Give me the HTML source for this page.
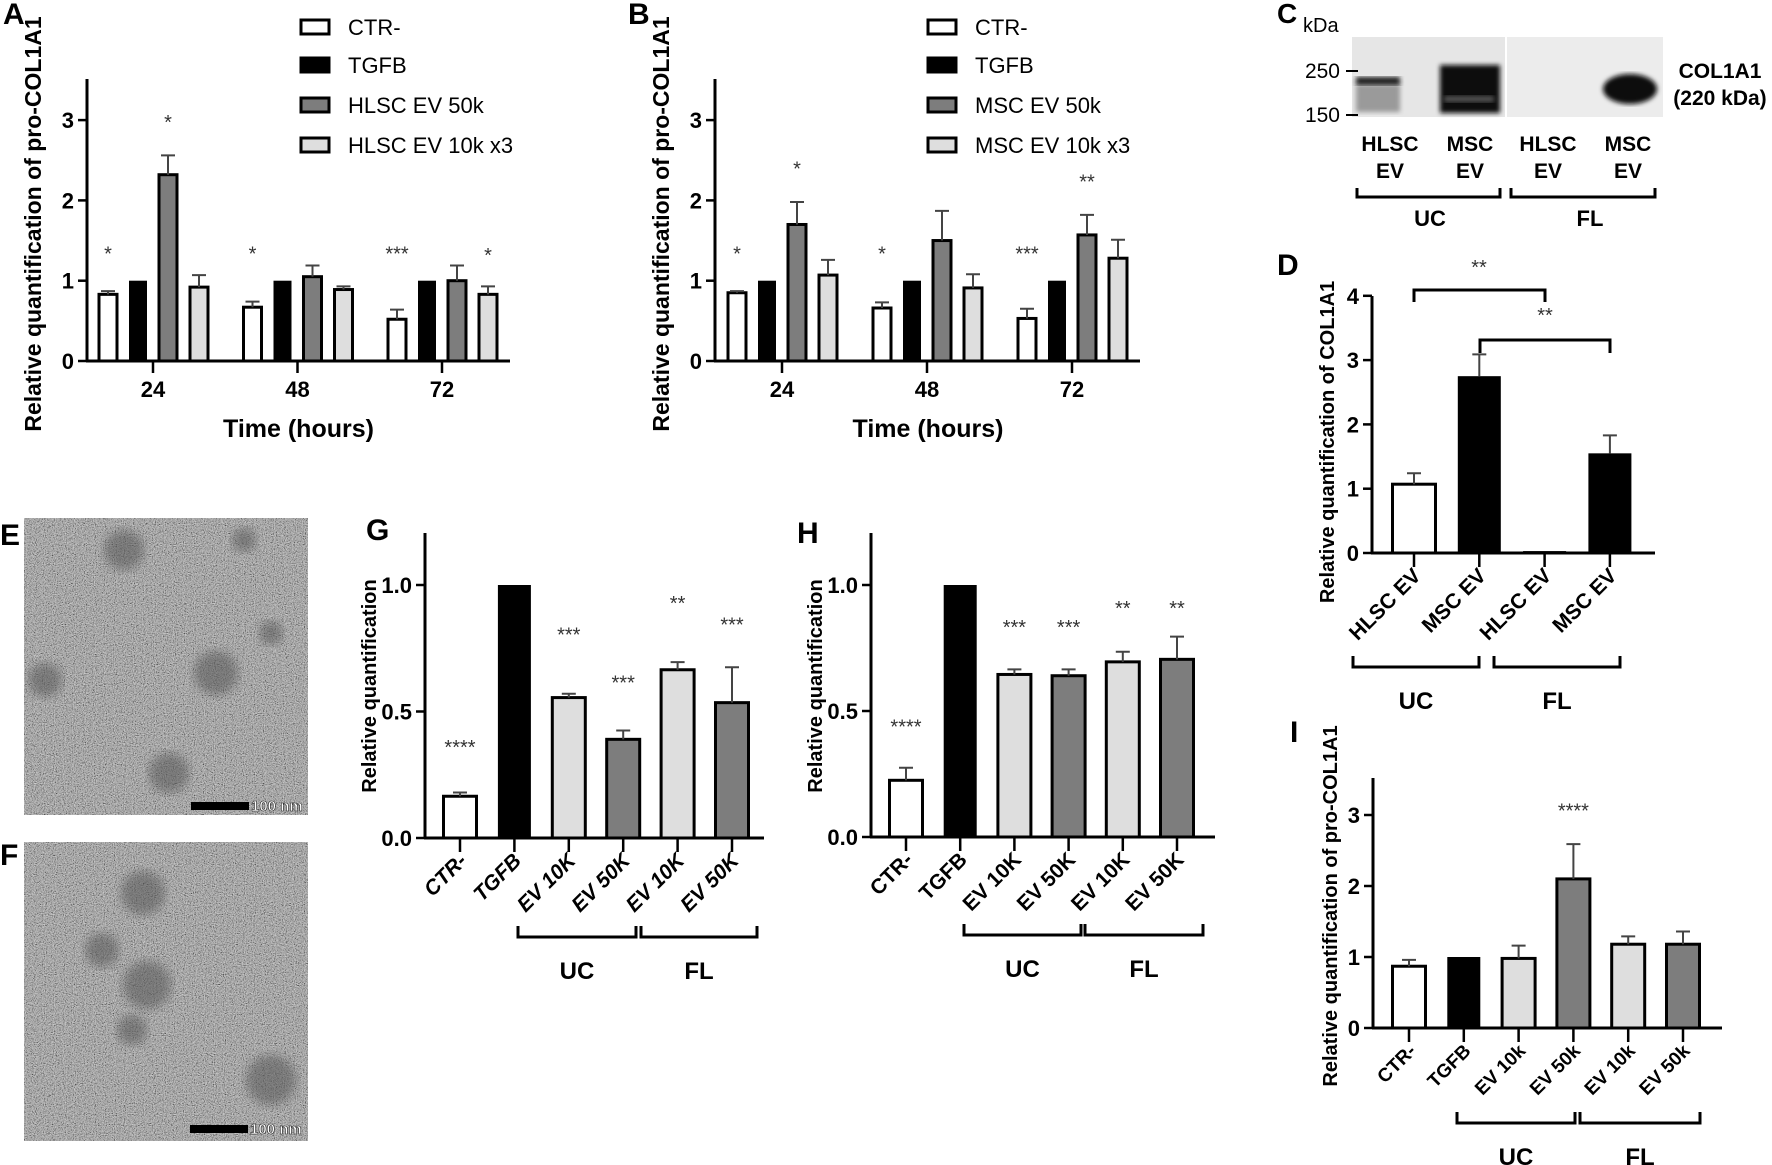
<!DOCTYPE html>
<html><head><meta charset="utf-8"><style>
html,body{margin:0;padding:0;background:#fff;}
svg{display:block;font-family:"Liberation Sans",Arial,sans-serif;}
</style></head>
<body>
<svg id="fig" width="1772" height="1165" viewBox="0 0 1772 1165" xmlns="http://www.w3.org/2000/svg">
<defs>
<filter id="noise" x="0" y="0" width="100%" height="100%">
<feTurbulence type="fractalNoise" baseFrequency="0.9" numOctaves="2" seed="3" result="t"/>
<feColorMatrix type="matrix" values="1 1 1 0 -1.1  1 1 1 0 -1.1  1 1 1 0 -1.1  0 0 0 0 0.5"/>
</filter>
<filter id="blur4"><feGaussianBlur stdDeviation="5"/></filter>
<filter id="blur2"><feGaussianBlur stdDeviation="2.5"/></filter>
</defs>
<g id="root"></g>
</svg>
<script>
// ---------- Panel A data ----------
const A_times = ['24','48','72'];
const A_ctr = [0.83, 0.67, 0.52];
const A_ctrErr = [0.87, 0.74, 0.64];
const A_tgfb = [1, 1, 1];
const A_tgfbErr = [1, 1, 1];
const A_ev50 = [2.32, 1.05, 1.0];
const A_ev50Err = [2.56, 1.19, 1.19];
const A_ev10 = [0.92, 0.89, 0.83];
const A_ev10Err = [1.07, 0.93, 0.93];
const A_sigCtr = ['*','*','***'];
const A_sigEv50 = ['*','',''];
const A_sigEv10 = ['','','*'];
const A_ticks = [0,1,2,3];
const A_legend = ['CTR-','TGFB','HLSC EV 50k','HLSC EV 10k x3'];
// ---------- Panel B data ----------
const B_times = ['24','48','72'];
const B_ctr = [0.85, 0.66, 0.53];
const B_ctrErr = [0.87, 0.73, 0.65];
const B_tgfb = [1, 1, 1];
const B_tgfbErr = [1, 1, 1];
const B_ev50 = [1.70, 1.50, 1.57];
const B_ev50Err = [1.98, 1.87, 1.82];
const B_ev10 = [1.07, 0.91, 1.28];
const B_ev10Err = [1.26, 1.08, 1.51];
const B_sigCtr = ['*','*','***'];
const B_sigEv50 = ['*','','**'];
const B_sigEv10 = ['','',''];
const B_ticks = [0,1,2,3];
const B_legend = ['CTR-','TGFB','MSC EV 50k','MSC EV 10k x3'];
// ---------- Panel D data ----------
const D_cats = ['HLSC EV','MSC EV','HLSC EV','MSC EV'];
const D_vals = [1.07, 2.75, 0.03, 1.55];
const D_err = [1.24, 3.09, 0.03, 1.83];
const D_ticks = [0,1,2,3,4];
// ---------- Panel G data ----------
const G_cats = ['CTR-','TGFB','EV 10K','EV 50K','EV 10K','EV 50K'];
const G_vals = [0.165, 1.0, 0.555, 0.39, 0.665, 0.535];
const G_err = [0.18, 1.0, 0.57, 0.425, 0.695, 0.675];
const G_sig = ['****','','***','***','**','***'];
const G_sigY = [0.355, 0, 0.80, 0.61, 0.925, 0.84];
const G_ticks = [0, 0.5, 1.0];
const G_tickLabels = ['0.0','0.5','1.0'];
// ---------- Panel H data ----------
const H_cats = ['CTR-','TGFB','EV 10K','EV 50K','EV 10K','EV 50K'];
const H_vals = [0.225, 1.0, 0.645, 0.64, 0.695, 0.705];
const H_err = [0.275, 1.0, 0.665, 0.665, 0.735, 0.795];
const H_sig = ['****','','***','***','**','**'];
const H_sigY = [0.435, 0, 0.83, 0.83, 0.905, 0.905];
const H_ticks = [0, 0.5, 1.0];
const H_tickLabels = ['0.0','0.5','1.0'];
// ---------- Panel I data ----------
const I_cats = ['CTR-','TGFB','EV 10k','EV 50k','EV 10k','EV 50k'];
const I_vals = [0.87, 1.0, 0.98, 2.10, 1.18, 1.18];
const I_err = [0.96, 1.0, 1.16, 2.59, 1.29, 1.36];
const I_sig = ['','','','****','',''];
const I_sigY = [0,0,0,3.05,0,0];
const I_ticks = [0,1,2,3];

const NS='http://www.w3.org/2000/svg';
const root=document.getElementById('root');
function mk(tag,attrs,parent,text){const e=document.createElementNS(NS,tag);for(const k in attrs)e.setAttribute(k,attrs[k]);if(text!==undefined)e.textContent=text;(parent||root).appendChild(e);return e;}
const FILLS={white:'#ffffff',black:'#000000',dark:'#7d7d7d',light:'#dedede'};

function yAxis(g,ax,zero,top,unit,ticks,labels,fs){
  const l=mk('line',{x1:ax,y1:top,x2:ax,y2:zero+1,stroke:'#000','stroke-width':3},g);
  
  
  ticks.forEach((t,i)=>{const y=zero-t*unit;
    const tk=mk('line',{x1:ax-9,y1:y,x2:ax,y2:y,stroke:'#000','stroke-width':2.5},g);
    
    
    const tl=mk('text',{x:ax-13,y:y+8,'text-anchor':'end','font-size':fs,'font-weight':'bold'},g,labels?labels[i]:String(t));
    
    });
}
function barMark(g,cx,w,zero,unit,v,err,fill,name){
  const top=zero-v*unit;
  const r=mk('rect',{x:cx-w/2,y:top,width:w,height:Math.max(zero-top,1),fill:fill,stroke:'#000','stroke-width':fill==='#000000'?0:3},g);
  
  
  if(err>v+0.001){const et=zero-err*unit;
    const e=mk('path',{d:`M${cx},${top} V${et} M${cx-7},${et} H${cx+7}`,stroke:'#444','stroke-width':2,fill:'none'},g);
    
    }
}
function star(g,x,y,s){if(!s)return;const t=mk('text',{x:x,y:y,'text-anchor':'middle','font-size':20,fill:'#333'},g,s);
  
  }
function ylabel(g,x,y,s,fs,txt){const t=mk('text',{transform:`translate(${x},${y}) rotate(-90)`,'text-anchor':'middle','font-size':fs,'font-weight':'bold'},g,txt);
  
  }
function letter(x,y,s,fs){const t=mk('text',{x:x,y:y,'font-size':fs||30,'font-weight':'bold'},root,s);
  
  }
function bracket(g,x1,x2,y,up,name){const p=mk('path',{d:`M${x1},${y-up} V${y} H${x2} V${y-up}`,stroke:'#000','stroke-width':3,fill:'none'},g);
  
  }
function centerText(g,x,y,s,fs,bold,name){const t=mk('text',{x:x,y:y,'text-anchor':'middle','font-size':fs,'font-weight':bold?'bold':'normal'},g,s);
  
  return t;}

// ---------- grouped chart (A, B) ----------
function grouped(cfg){
  const g=mk('g',{});
  
  
  const {ax,zero,top,unit,end,tick0,step}=cfg;
  const xOf=i=>tick0+i*step;
  const offs=[-45,-15,15,46], w=18;
  const series=[[cfg.ctr,cfg.ctrErr,FILLS.white,'bar-ctr'],[cfg.tgfb,cfg.tgfbErr,FILLS.black,'bar-tgfb'],[cfg.ev50,cfg.ev50Err,FILLS.dark,'bar-ev-50k'],[cfg.ev10,cfg.ev10Err,FILLS.light,'bar-ev-10k']];
  cfg.times.forEach((t,i)=>{
    series.forEach((s,k)=>barMark(g,xOf(i)+offs[k],w,zero,unit,s[0][i],s[1][i],s[2],s[3]+'-'+t));
    star(g,xOf(i)+offs[0],zero-1.25*unit,cfg.sigCtr[i]);
    star(g,xOf(i)+offs[2],zero-(cfg.ev50Err[i]+0.33)*unit,cfg.sigEv50[i]);
    star(g,xOf(i)+offs[3],zero-(cfg.ev10Err[i]+0.3)*unit,cfg.sigEv10[i]);
    const tk=mk('line',{x1:xOf(i),y1:zero,x2:xOf(i),y2:zero+12,stroke:'#000','stroke-width':2.5},g);
    
    
    centerText(g,xOf(i),zero+36,t,22,true,'x-tick-label');
  });
  const xl=mk('line',{x1:ax-1,y1:zero,x2:end,y2:zero,stroke:'#000','stroke-width':3},g);
  
  
  yAxis(g,ax,zero,top,unit,cfg.ticks,null,22);
  ylabel(g,ax-46,224,'',23,'Relative quantification of pro-COL1A1');
  centerText(g,xOf(1)+1,437,'Time (hours)',25,true,'x-axis-title');
  const lf=[FILLS.white,FILLS.black,FILLS.dark,FILLS.light];
  const lg=mk('g',{},g);
  
  
  cfg.legend.forEach((s,i)=>{const y=[27,65,105,145][i];
    const r=mk('rect',{x:cfg.lx,y:y-7,width:28,height:14,fill:lf[i],stroke:'#000','stroke-width':3},lg);
    
    
    const t=mk('text',{x:cfg.lx+47,y:y+8,'font-size':22},lg,s);
    
    });
}
grouped({name:'chart-a',ax:87,zero:361,top:79,unit:80.3,end:510,tick0:153,step:144.5,times:A_times,ctr:A_ctr,ctrErr:A_ctrErr,tgfb:A_tgfb,tgfbErr:A_tgfbErr,ev50:A_ev50,ev50Err:A_ev50Err,ev10:A_ev10,ev10Err:A_ev10Err,sigCtr:A_sigCtr,sigEv50:A_sigEv50,sigEv10:A_sigEv10,ticks:A_ticks,legend:A_legend,lx:301});
grouped({name:'chart-b',ax:715,zero:361,top:79,unit:80.3,end:1140,tick0:782,step:145,times:B_times,ctr:B_ctr,ctrErr:B_ctrErr,tgfb:B_tgfb,tgfbErr:B_tgfbErr,ev50:B_ev50,ev50Err:B_ev50Err,ev10:B_ev10,ev10Err:B_ev10Err,sigCtr:B_sigCtr,sigEv50:B_sigEv50,sigEv10:B_sigEv10,ticks:B_ticks,legend:B_legend,lx:928});
letter(3,24,'A',30); letter(628,24,'B',30);

// ---------- simple bar chart (D, G, H, I) ----------
function simple(cfg){
  const g=mk('g',{});
  
  
  const {ax,zero,top,unit,end,x0,step,w}=cfg;
  const xOf=i=>x0+i*step;
  cfg.cats.forEach((c,i)=>{
    barMark(g,xOf(i),w,zero,unit,cfg.vals[i],cfg.err[i],cfg.fills[i],'bar-'+(i+1));
    if(cfg.sig)star(g,xOf(i),zero-cfg.sigY[i]*unit+6,cfg.sig[i]);
    const tk=mk('line',{x1:xOf(i),y1:zero,x2:xOf(i),y2:zero+14,stroke:'#000','stroke-width':2.5},g);
    
    
    const t=mk('text',{transform:`translate(${xOf(i)+8},${zero+24}) rotate(-45)`,'text-anchor':'end','font-size':cfg.xfs,'font-weight':'bold','font-style':cfg.italic?'italic':'normal'},g,c);
    
    
  });
  const xl=mk('line',{x1:ax-1,y1:zero,x2:end,y2:zero,stroke:'#000','stroke-width':3},g);
  
  
  yAxis(g,ax,zero,top,unit,cfg.ticks,cfg.tickLabels,22);
  ylabel(g,cfg.ylx,cfg.yly,'',cfg.yfs,cfg.ytitle);
  bracket(g,cfg.b1[0],cfg.b1[1],cfg.by,11,'uc-bracket');
  bracket(g,cfg.b2[0],cfg.b2[1],cfg.by,11,'fl-bracket');
  centerText(g,(cfg.b1[0]+cfg.b1[1])/2,cfg.by+42,'UC',24,true,'uc-label');
  centerText(g,(cfg.b2[0]+cfg.b2[1])/2,cfg.by+42,'FL',24,true,'fl-label');
  return g;
}
const gD=simple({name:'chart-d',ax:1372,zero:553,top:296,unit:64.3,end:1655,x0:1414,step:65.3,w:43,cats:D_cats,vals:D_vals,err:D_err,fills:[FILLS.white,FILLS.black,FILLS.black,FILLS.black],ticks:D_ticks,xfs:21,ylx:1334,yly:442,yfs:20,ytitle:'Relative quantification of COL1A1',b1:[1353,1479],b2:[1494,1620],by:667});
bracket(gD,1414,1545,290,-12,'significance-bracket-1');
bracket(gD,1480,1610,340,-13,'significance-bracket-2');
star(gD,1479,274,'**'); star(gD,1545,322,'**');
letter(1277,275,'D',30);

simple({name:'chart-g',ax:425,zero:838,top:533,unit:253,end:764,x0:460,step:54.4,w:33,cats:G_cats,vals:G_vals,err:G_err,sig:G_sig,sigY:G_sigY,fills:[FILLS.white,FILLS.black,FILLS.light,FILLS.dark,FILLS.light,FILLS.dark],ticks:G_ticks,tickLabels:G_tickLabels,xfs:21,italic:true,ylx:376,yly:686,yfs:20,ytitle:'Relative quantification',b1:[518,636],b2:[641,757],by:937});
letter(366,540,'G',30);
simple({name:'chart-h',ax:871,zero:837,top:533,unit:252,end:1215,x0:906,step:54.2,w:33,cats:H_cats,vals:H_vals,err:H_err,sig:H_sig,sigY:H_sigY,fills:[FILLS.white,FILLS.black,FILLS.light,FILLS.dark,FILLS.light,FILLS.dark],ticks:H_ticks,tickLabels:H_tickLabels,xfs:21,ylx:822,yly:686,yfs:20,ytitle:'Relative quantification',b1:[964,1081],b2:[1085,1203],by:935});
letter(797,543,'H',30);
simple({name:'chart-i',ax:1373,zero:1028,top:778,unit:71,end:1722,x0:1409,step:54.8,w:33,cats:I_cats,vals:I_vals,err:I_err,sig:I_sig,sigY:I_sigY,fills:[FILLS.white,FILLS.black,FILLS.light,FILLS.dark,FILLS.light,FILLS.dark],ticks:I_ticks,xfs:19,ylx:1337,yly:906,yfs:20,ytitle:'Relative quantification of pro-COL1A1',b1:[1457,1575],b2:[1580,1700],by:1123});
letter(1290,742,'I',30);

// ---------- Panel C: western blot ----------
(function(){
  const g=mk('g',{});
  
  
  mk('rect',{x:1352,y:37,width:153,height:80,fill:'#e6e6e6'},g);
  mk('rect',{x:1507,y:37,width:156,height:80,fill:'#ececec'},g);
  mk('rect',{x:1356,y:84,width:44,height:28,fill:'#9a9a9a',filter:'url(#blur2)'},g);
  mk('rect',{x:1356,y:77,width:44,height:8,fill:'#1a1a1a',filter:'url(#blur2)'},g);
  mk('rect',{x:1440,y:65,width:60,height:48,fill:'#111',filter:'url(#blur2)'},g);
  mk('rect',{x:1444,y:96,width:50,height:6,fill:'#555',filter:'url(#blur2)'},g);
  mk('ellipse',{cx:1630,cy:89,rx:27,ry:15,fill:'#0a0a0a',filter:'url(#blur2)'},g);
  const k=mk('text',{x:1303,y:32,'font-size':20},root,'kDa');
   
  [['250',71],['150',115]].forEach(m=>{
    const t=mk('text',{x:1340,y:m[1]+7,'text-anchor':'end','font-size':21},g,m[0]);
     
    mk('line',{x1:1346,y1:m[1],x2:1358,y2:m[1],stroke:'#000','stroke-width':2},g);
  });
  centerText(g,1720,78,'COL1A1',21,true,'protein-label');
  centerText(g,1720,105,'(220 kDa)',21,true,'protein-size-label');
  [[1390,'HLSC'],[1470,'MSC'],[1548,'HLSC'],[1628,'MSC']].forEach(l=>{
    centerText(g,l[0],151,l[1],21,true,'lane-label');
    centerText(g,l[0],178,'EV',21,true,'lane-label');
  });
  bracket(g,1357,1500,197,9,'uc-bracket');
  bracket(g,1511,1655,197,9,'fl-bracket');
  centerText(g,1430,226,'UC',22,true,'uc-label');
  centerText(g,1590,226,'FL',22,true,'fl-label');
})();
letter(1277,23,'C',28);

// ---------- Panels E, F: TEM images ----------
function tem(name,x,y,w,h,blobs,bar){
  const g=mk('g',{});
  
  
  mk('rect',{x:x,y:y,width:w,height:h,fill:'#a6a6a6'},g);
  mk('rect',{x:x,y:y,width:w,height:h,fill:'#fff',filter:'url(#noise)'},g);
  blobs.forEach(b=>{const c=mk('circle',{cx:b[0],cy:b[1],r:b[2],fill:'#555',opacity:0.55,filter:'url(#blur4)'},g);
     });
  const r=mk('rect',{x:bar[0],y:bar[1],width:58,height:8,fill:'#000'},g);
   
  const t=mk('text',{x:bar[0]+60,y:bar[1]+9,'font-size':15,'font-weight':'bold',fill:'#fff',stroke:'#222','stroke-width':0.6},g,'100 nm');
   
}
tem('tem-image-e',24,518,284,297,[[124,550,20],[244,540,12],[271,633,12],[216,673,22],[45,680,17],[169,773,20]],[191,802]);
tem('tem-image-f',24,842,284,299,[[143,893,22],[102,950,17],[147,985,24],[132,1030,15],[271,1080,25]],[190,1125]);
letter(0,545,'E',30); letter(0,865,'F',30);
</script>
</body></html>
